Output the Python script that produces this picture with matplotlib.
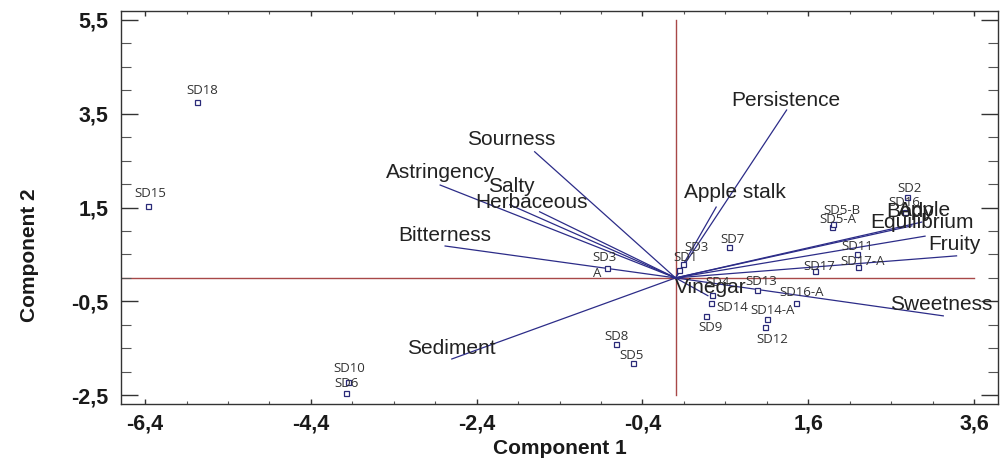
import numpy as np
import matplotlib.pyplot as plt
from matplotlib.ticker import FixedLocator, FuncFormatter

# sample scores on the first two components
samples = ["SD18", "SD15", "SD10", "SD6", "SD8", "SD5", "SD3-A", "SD3", "SD1",
           "SD7", "SD4", "SD13", "SD14", "SD9", "SD14-A", "SD12", "SD16-A",
           "SD17", "SD17-A", "SD11", "SD5-A", "SD5-B", "SD16", "SD2"]
comp1 = [-5.77, -6.36, -3.95, -3.98, -0.72, -0.51, -0.83, 0.09, 0.04,
         0.65, 0.44, 0.98, 0.43, 0.37, 1.10, 1.08, 1.45,
         1.68, 2.20, 2.19, 1.89, 1.90, 2.77, 2.79]
comp2 = [3.75, 1.53, -2.22, -2.45, -1.41, -1.81, 0.21, 0.30, 0.17,
         0.66, -0.36, -0.26, -0.53, -0.81, -0.88, -1.05, -0.53,
         0.15, 0.24, 0.51, 1.09, 1.15, 1.41, 1.73]

# attribute loadings (scaled for the biplot)
attributes = ["Persistence", "Sourness", "Astringency", "Salty", "Herbaceous",
              "Bitterness", "Sediment", "Apple stalk", "Vinegar", "Sweetness",
              "Fruity", "Equilibrium", "Body", "Apple"]
load1 = [1.34, -1.70, -2.84, -2.00, -1.64, -2.78, -2.70, 0.49, 0.39, 3.23,
         3.39, 3.01, 2.85, 2.97]
load2 = [3.58, 2.69, 1.98, 1.56, 1.41, 0.68, -1.73, 1.51, -0.38, -0.81,
         0.47, 0.89, 1.11, 1.19]

# label placement (pixel offsets from the point)
sample_off = {"SD18": (5, 12), "SD15": (2, 13), "SD10": (1, 13), "SD6": (1, 9),
              "SD8": (1, 8), "SD5": (-2, 7), "SD3": (13, 16), "SD1": (7, 12),
              "SD7": (3, 7), "SD4": (5, 12), "SD13": (4, 9), "SD14": (21, -5),
              "SD9": (4, -12), "SD14-A": (6, 9), "SD12": (7, -12),
              "SD16-A": (6, 10), "SD17": (5, 4), "SD17-A": (5, 5),
              "SD11": (0, 7), "SD5-A": (6, 7), "SD5-B": (9, 13),
              "SD16": (-1, 9), "SD2": (3, 8)}
attr_off = {"Persistence": (-1, 10), "Sourness": (-23, 12), "Astringency": (0, 13),
            "Salty": (2, 18), "Herbaceous": (-8, 9), "Bitterness": (0, 11),
            "Sediment": (0, 11), "Apple stalk": (19, 15), "Vinegar": (3, 8),
            "Sweetness": (-2, 11), "Fruity": (-2, 11), "Equilibrium": (-3, 14),
            "Body": (-2, 14), "Apple": (3, 12)}

fig = plt.figure(figsize=(10.02, 4.62), dpi=100)
ax = fig.add_axes([0.1208, 0.1255, 0.8752, 0.8505])

xmin, xmax = -6.69, 3.89
ymin, ymax = -2.69, 5.69
ax.set_xlim(xmin, xmax)
ax.set_ylim(ymin, ymax)

# reference lines through the origin
red = "#a84848"
ax.plot([xmin, 3.6], [0, 0], color=red, lw=1, zorder=1)
ax.plot([0, 0], [-2.5, 5.5], color=red, lw=1, zorder=1)

# attribute vectors
for name, lx, ly in zip(attributes, load1, load2):
    ax.plot([0, lx], [0, ly], color="#2c2c88", lw=0.9, zorder=2)
    dx, dy = attr_off[name]
    ax.annotate(name, (lx, ly), xytext=(dx, dy), textcoords="offset pixels",
                ha="center", va="center", fontsize=15, color="#222222",
                family="Liberation Sans", zorder=4)

# samples
ax.plot(comp1, comp2, ls="none", marker="s", ms=3.6, mfc="white",
        mec="#2a2a78", mew=0.9, zorder=3)
for name, sx, sy in zip(samples, comp1, comp2):
    if name == "SD3-A":
        ax.annotate("SD3\nA", (sx, sy), xytext=(-14, 3), textcoords="offset pixels",
                    ha="left", va="center", fontsize=9.5, color="#333333",
                    family="Open Sans", linespacing=1.3, zorder=4)
        continue
    dx, dy = sample_off[name]
    ax.annotate(name, (sx, sy), xytext=(dx, dy), textcoords="offset pixels",
                ha="center", va="center", fontsize=9.5, color="#333333",
                family="Open Sans", zorder=4)

# axes styling
comma = FuncFormatter(lambda v, p: ("%.1f" % v).replace(".", ","))
ax.xaxis.set_major_locator(FixedLocator([-6.4, -4.4, -2.4, -0.4, 1.6, 3.6]))
ax.xaxis.set_minor_locator(FixedLocator(np.arange(-6.4, 3.61, 0.5)))
ax.yaxis.set_major_locator(FixedLocator([-2.5, -0.5, 1.5, 3.5, 5.5]))
ax.yaxis.set_minor_locator(FixedLocator(np.arange(-2.5, 5.51, 0.5)))
ax.xaxis.set_major_formatter(comma)
ax.yaxis.set_major_formatter(comma)

ax.tick_params(axis="x", which="major", direction="in", length=3.6, width=1,
               top=True, pad=7, colors="#333333", labelcolor="#1a1a1a")
ax.tick_params(axis="x", which="minor", direction="in", length=2.2, width=0.8,
               top=True, colors="#555555")
ax.tick_params(axis="y", which="major", direction="in", length=12, width=1,
               right=True, pad=9, colors="#333333", labelcolor="#1a1a1a")
ax.tick_params(axis="y", which="minor", direction="in", length=7, width=0.8,
               right=True, colors="#555555")
for lab in ax.get_xticklabels() + ax.get_yticklabels():
    lab.set_fontfamily("Liberation Sans")
    lab.set_fontweight("bold")
    lab.set_fontsize(15.5)

for sp in ax.spines.values():
    sp.set_color("#333333")
    sp.set_linewidth(1)

ax.set_xlabel("Component 1", fontsize=15, fontweight="bold",
              family="Liberation Sans", color="#1a1a1a")
ax.set_ylabel("Component 2", fontsize=15, fontweight="bold",
              family="Liberation Sans", color="#1a1a1a")
ax.xaxis.set_label_coords(0.5, -0.088)
ax.yaxis.set_label_coords(-0.094, 0.379)

fig.savefig("out.png", dpi=100)
